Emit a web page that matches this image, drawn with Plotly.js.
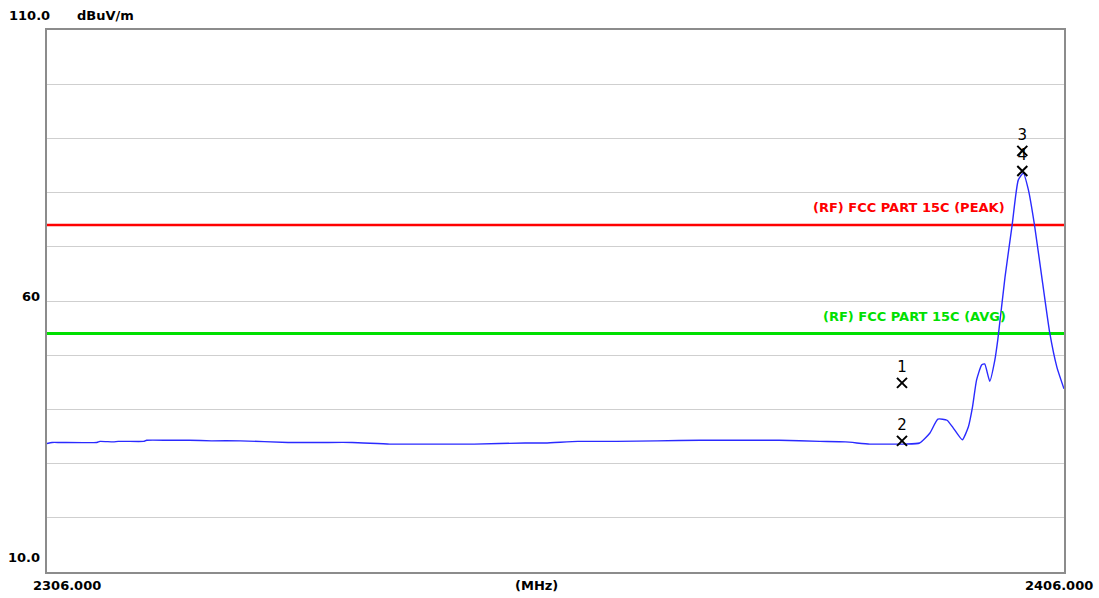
<!DOCTYPE html>
<html>
<head>
<meta charset="utf-8">
<script src="https://cdn.plot.ly/plotly-3.0.1.min.js"></script>
<style>html,body{margin:0;padding:0;background:#fff;}#chart{width:1099px;height:598px;}</style>
</head>
<body>
<div id="chart"></div>
<script>
// Spectrum trace (MHz, dBuV/m)
var freq = [2306.0, 2306.5, 2307.3, 2310.9, 2311.2, 2312.5, 2313.0, 2313.8, 2315.5, 2315.8, 2318.0, 2320.0, 2322.2, 2325.0, 2329.7, 2333.0, 2336.0, 2339.7, 2344.0, 2348.0, 2353.0, 2355.0, 2358.2, 2362.0, 2366.0, 2370.2, 2374.0, 2378.0, 2382.0, 2384.5, 2386.9, 2389.0, 2390.4, 2391.8, 2392.8, 2393.6, 2394.5, 2395.1, 2396.0, 2396.6, 2397.0, 2397.4, 2397.9, 2398.2, 2398.7, 2399.2, 2399.5, 2400.2, 2400.9, 2401.5, 2402.0, 2402.5, 2403.1, 2403.9, 2404.6, 2405.3, 2406.0];
var level = [33.7, 33.9, 33.9, 33.9, 34.1, 34.0, 34.1, 34.1, 34.1, 34.3, 34.3, 34.3, 34.2, 34.2, 33.9, 33.9, 33.9, 33.6, 33.6, 33.6, 33.8, 33.8, 34.1, 34.1, 34.2, 34.3, 34.3, 34.3, 34.1, 34.0, 33.6, 33.6, 33.6, 33.8, 35.6, 38.2, 38.0, 36.6, 34.4, 36.8, 40.4, 45.4, 48.2, 48.4, 45.2, 49.1, 53.0, 64.4, 74.0, 82.3, 83.6, 80.5, 74.0, 63.3, 54.1, 47.8, 43.8];

// Limit lines
var limitFreq = [2306.0, 2406.0];
var peakLimit = [74, 74];
var avgLimit = [54, 54];
var peakLabel = "(RF) FCC PART 15C (PEAK)";
var avgLabel = "(RF) FCC PART 15C (AVG)";

// Markers
var markerFreq = [2390.07, 2390.07, 2401.9, 2401.9];
var markerLevel = [44.9, 34.2, 87.7, 84.0];
var markerLabel = ["1", "2", "3", "4"];

// Axis labels
var yTop = "110.0", yMid = "60", yBottom = "10.0", yUnit = "dBuV/m";
var xLeft = "2306.000", xUnit = "(MHz)", xRight = "2406.000";

var FAM = "DejaVu Sans, Verdana, sans-serif";
var fntB = {family: FAM, size: 13, color: "#000", weight: "bold"};

var traces = [
  {x: limitFreq, y: peakLimit, mode: "lines", line: {color: "#ff0000", width: 2.5}, hoverinfo: "skip"},
  {x: limitFreq, y: avgLimit, mode: "lines", line: {color: "#00e000", width: 3}, hoverinfo: "skip"},
  {x: freq, y: level, mode: "lines", line: {color: "#2a2aff", width: 1.4, shape: "spline", smoothing: 0.5}},
  {x: markerFreq, y: markerLevel, mode: "markers+text", text: markerLabel, textposition: "top center",
   textfont: {family: FAM, size: 15, color: "#000"},
   marker: {symbol: "x-thin", size: 10, line: {color: "#000", width: 2}, color: "#000"}}
];

var layout = {
  width: 1099, height: 598,
  margin: {l: 47, r: 35, t: 30, b: 26, pad: 0},
  paper_bgcolor: "#fff", plot_bgcolor: "#fff",
  showlegend: false,
  xaxis: {range: [2306, 2406], showgrid: false, zeroline: false, showticklabels: false, ticks: "",
          showline: true, mirror: true, linecolor: "#8c8c8c", linewidth: 2},
  yaxis: {range: [10, 110], dtick: 10, tick0: 10, showgrid: true, gridcolor: "#cfcfcf", gridwidth: 1,
          zeroline: false, showticklabels: false, ticks: "",
          showline: true, mirror: true, linecolor: "#8c8c8c", linewidth: 2},
  annotations: [
    {xref: "paper", yref: "y", x: 0, y: 110, xshift: 5, yshift: 15, text: yTop, showarrow: false, xanchor: "right", yanchor: "middle", font: fntB},
    {xref: "paper", yref: "y", x: 0, y: 110, xshift: 28, yshift: 15, text: yUnit, showarrow: false, xanchor: "left", yanchor: "middle", font: fntB},
    {xref: "paper", yref: "y", x: 0, y: 60, xshift: -5, yshift: 5, text: yMid, showarrow: false, xanchor: "right", yanchor: "middle", font: fntB},
    {xref: "paper", yref: "y", x: 0, y: 10, xshift: -5, yshift: 15, text: yBottom, showarrow: false, xanchor: "right", yanchor: "middle", font: fntB},
    {xref: "x", yref: "paper", x: 2306, y: 0, xshift: 20, yshift: -13, text: xLeft, showarrow: false, xanchor: "center", yanchor: "middle", font: fntB},
    {xref: "x", yref: "paper", x: 2356, y: 0, xshift: -19, yshift: -13, text: xUnit, showarrow: false, xanchor: "center", yanchor: "middle", font: fntB},
    {xref: "x", yref: "paper", x: 2406, y: 0, xshift: -5, yshift: -13, text: xRight, showarrow: false, xanchor: "center", yanchor: "middle", font: fntB},
    {xref: "x", yref: "y", x: 2400.0, y: 74, xshift: 4, yshift: 18, text: peakLabel, showarrow: false, xanchor: "right", yanchor: "middle",
     font: {family: FAM, size: 13, color: "#ff0000", weight: "bold"}},
    {xref: "x", yref: "y", x: 2400.2, y: 54, xshift: 3, yshift: 17, text: avgLabel, showarrow: false, xanchor: "right", yanchor: "middle",
     font: {family: FAM, size: 13, color: "#00e000", weight: "bold"}}
  ]
};

Plotly.newPlot("chart", traces, layout, {displayModeBar: false, staticPlot: true});
</script>
</body>
</html>
